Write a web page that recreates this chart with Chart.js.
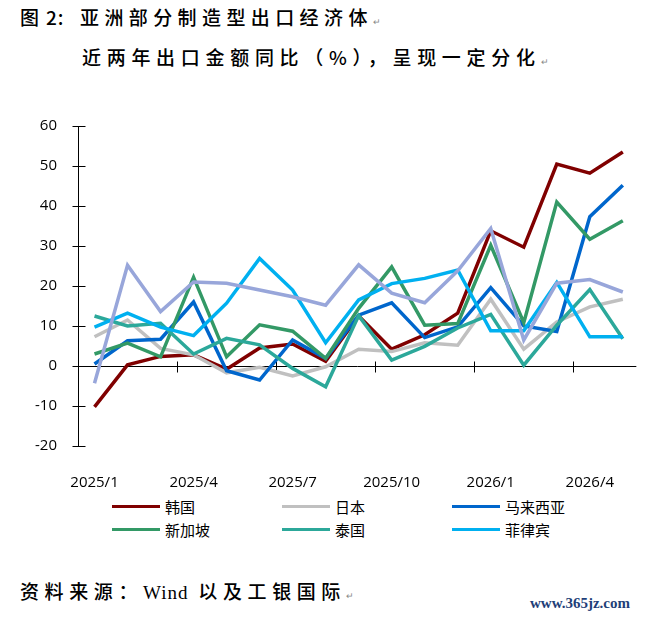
<!DOCTYPE html>
<html>
<head>
<meta charset="utf-8">
<script src="https://cdn.jsdelivr.net/npm/chart.js@4.4.1/dist/chart.umd.min.js"></script>
<style>
  html, body { margin: 0; padding: 0; background: #fff; }
  body { width: 651px; height: 619px; position: relative; overflow: hidden; color: #000;
         font-family: "Noto Sans CJK SC", sans-serif; }
  .t { position: absolute; white-space: nowrap; font-size: 19px; letter-spacing: 5.4px; line-height: 1; font-weight: 500; }
  .rm { font-size: 9px; color: #888; letter-spacing: 0; font-weight: 400; }
  #c { position: absolute; left: 0; top: 110px; width: 651px; height: 380px; }
  .lg { position: absolute; display: flex; align-items: center; font-size: 15px; line-height: 1; white-space: nowrap; }
  .lg i { display: inline-block; width: 48px; height: 3px; margin-right: 5px; }
  .wm { position: absolute; left: 530px; top: 595px; font-family: "Liberation Serif", serif; font-size: 15px;
        color: #1f3f78; font-weight: bold; }
</style>
</head>
<body>
<div class="t" style="left:20px; top:7px; letter-spacing:0;">图<span style="margin-left:7px; letter-spacing:1px">2:</span></div>
<div class="t" style="left:80px; top:7px;">亚洲部分制造型出口经济体<span class="rm">↵</span></div>
<div class="t" style="left:82px; top:47px; letter-spacing:5.7px;">近两年出口金额同比（%），呈现一定分化<span class="rm">↵</span></div>
<canvas id="c" width="651" height="380"></canvas>
<div id="legend"></div>
<div class="t" style="left:20px; top:581px; letter-spacing:5.6px;">资料来源：<span style="font-family:'Liberation Serif',serif;letter-spacing:1px">Wind</span> 以及工银国际<span class="rm">↵</span></div>
<div class="wm">www.365jz.com</div>

<script>
// months on the category axis
const labels = ['2025/1', '2025/2', '2025/3', '2025/4', '2025/5', '2025/6', '2025/7', '2025/8', '2025/9',
  '2025/10', '2025/11', '2025/12', '2026/1', '2026/2', '2026/3', '2026/4', '2026/5'];

// export value yoy, %
const korea       = [-10.2, 0.3, 2.4, 2.8, -0.8, 4.5, 5.5, 1.2, 12.5, 4.2, 7.8, 13.2, 33.8, 29.7, 50.5, 48.2, 53.5];
const japan       = [7.3, 11.5, 4.4, 2.8, -1.7, -0.3, -2.5, -0.2, 4.2, 3.6, 5.8, 5.2, 16.7, 4.2, 11.0, 14.8, 16.7];
const malaysia    = [0.5, 6.3, 6.7, 16.0, -1.2, -3.5, 6.5, 1.9, 12.7, 15.8, 7.1, 9.8, 19.6, 10.0, 8.6, 37.3, 45.2];
const singapore   = [3.0, 5.7, 2.3, 22.2, 2.3, 10.3, 8.7, 1.9, 14.4, 24.8, 10.2, 10.6, 30.2, 10.8, 41.0, 31.7, 36.3];
const thailand    = [12.5, 10.0, 10.7, 3.0, 6.9, 5.3, -0.6, -5.2, 12.6, 1.5, 4.9, 9.5, 12.9, 0.2, 10.2, 19.1, 6.8];
const philippines = [9.7, 13.2, 9.7, 7.6, 15.7, 26.9, 19.0, 5.8, 16.5, 20.6, 21.9, 24.0, 8.8, 8.8, 20.9, 7.3, 7.3];
const unlabeled   = [-4.3, 25.2, 13.6, 21.0, 20.7, 19.0, 17.3, 15.2, 25.3, 18.2, 15.8, 23.8, 34.4, 6.5, 20.7, 21.6, 18.5];

const yMin = -20, yMax = 60, yStep = 10;

const series = [
  { label: '韩国',   data: korea,       color: '#800000' },
  { label: '日本',   data: japan,       color: '#c0c0c0' },
  { label: '马来西亚', data: malaysia,  color: '#0066cc' },
  { label: '新加坡', data: singapore,   color: '#339966' },
  { label: '泰国',   data: thailand,    color: '#2ca89a' },
  { label: '菲律宾', data: philippines, color: '#00b0f0' },
  { label: '',       data: unlabeled,   color: '#98a6da' },
];

// axis line at y=0 and a y-axis whose ticks cross both sides
const crossAxes = {
  id: 'crossAxes',
  beforeDatasetsDraw(chart) {
    const { ctx, chartArea: a, scales: { x, y } } = chart;
    const y0 = Math.round(y.getPixelForValue(0)) + 0.5;
    const xl = Math.round(a.left) + 0.5;
    ctx.save();
    ctx.strokeStyle = '#000';
    ctx.lineWidth = 1;
    ctx.beginPath();
    ctx.moveTo(xl, y.getPixelForValue(yMax));
    ctx.lineTo(xl, y.getPixelForValue(yMin));
    y.ticks.forEach(t => {
      const py = Math.round(y.getPixelForValue(t.value)) + 0.5;
      ctx.moveTo(xl - 6, py);
      ctx.lineTo(xl + 7, py);
    });
    ctx.moveTo(xl, y0);
    ctx.lineTo(a.right - 3, y0);
    for (let i = 3; i < labels.length; i += 3) {
      const px = Math.round((x.getPixelForValue(i - 1) + x.getPixelForValue(i)) / 2) + 0.5;
      ctx.moveTo(px, y0 - 5);
      ctx.lineTo(px, y0 + 6);
    }
    ctx.stroke();
    ctx.restore();
  }
};

const chart = new Chart(document.getElementById('c'), {
  type: 'line',
  data: {
    labels: labels,
    datasets: series.map((s, i) => ({
      label: s.label,
      data: s.data,
      borderColor: s.color,
      backgroundColor: s.color,
      borderWidth: 3.5,
      pointRadius: 0,
      tension: 0,
      fill: false,
      order: series.length - i,
    })),
  },
  options: {
    responsive: false,
    animation: false,
    events: [],
    layout: { padding: { top: 16, right: 6, left: 0, bottom: 0 } },
    plugins: { legend: { display: false }, tooltip: { enabled: false } },
    scales: {
      x: {
        type: 'category',
        offset: true,
        grid: { display: false, drawTicks: false },
        border: { display: false },
        ticks: {
          autoSkip: false, maxRotation: 0, padding: 28, color: '#000',
          font: { family: 'Open Sans', size: 15 },
          callback: (v, i) => (i % 3 === 0 ? labels[i] : ''),
        },
        afterFit: s => { s.height = 44; },
      },
      y: {
        min: yMin, max: yMax,
        grid: { display: false, drawTicks: false },
        border: { display: false },
        ticks: { stepSize: yStep, padding: 21, color: '#000', font: { family: 'Open Sans', size: 15 } },
        afterFit: s => { s.width = 78; s.paddingTop = 9; s.paddingBottom = 9; },
      },
    },
  },
  plugins: [crossAxes],
});

// html legend in three fixed columns, built from the datasets
const legend = document.getElementById('legend');
chart.data.datasets.filter(d => d.label).forEach((d, k) => {
  const item = document.createElement('div');
  item.className = 'lg';
  item.style.left = (112 + (k % 3) * 170) + 'px';
  item.style.top = (499 + Math.floor(k / 3) * 23) + 'px';
  item.innerHTML = `<i style="background:${d.borderColor}"></i><span>${d.label}</span>`;
  legend.appendChild(item);
});
</script>
</body>
</html>
